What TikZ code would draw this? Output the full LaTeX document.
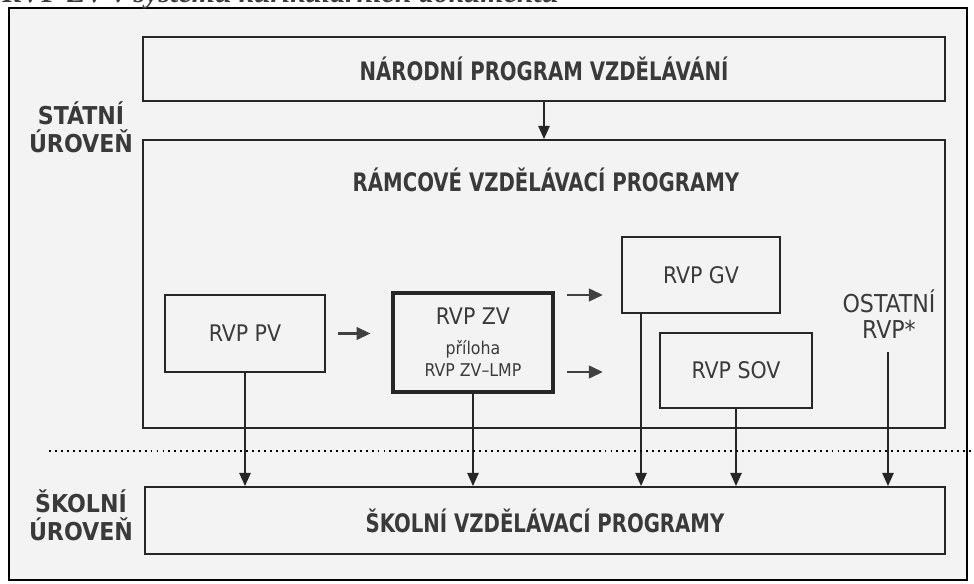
\documentclass[tikz,border=0pt]{standalone}
\usepackage{fontspec}
\setsansfont{DejaVu Sans Condensed}
\newfontfamily\headfont[FakeStretch=0.86]{DejaVu Sans Condensed}
\newfontfamily\capfont{Liberation Serif}
\usetikzlibrary{arrows.meta}
\definecolor{ink}{HTML}{3A3A3A}
\definecolor{paper}{HTML}{F3F3F3}

\begin{document}
\begin{tikzpicture}[x=0.02cm, y=-0.02cm, font=\sffamily, text=ink,
  box/.style={draw=black!85, line width=1.1pt, inner sep=0pt},
  head/.style={font=\headfont\bfseries\fontsize{14.5}{16}\selectfont},
  level/.style={font=\sffamily\bfseries\fontsize{14}{16}\selectfont, align=center},
  rvpname/.style={font=\sffamily\fontsize{13}{14.5}\selectfont, align=center},
  down/.style={draw=black!85, line width=0.8pt, -{Triangle[length=7.5pt,width=6.5pt]}},
  side/.style={draw=black!75, line width=1.7pt, -{Triangle[length=8pt,width=7pt]}}]
  \useasboundingbox[fill=white] (0,0) rectangle (974,584);
  \draw[line width=1.1pt, fill=paper] (9,8) rectangle (967,580);
  \node[font=\capfont\bfseries\itshape\fontsize{17}{20}\selectfont, anchor=base west, inner sep=0pt] (cap) at (2,3) {RVP ZV v systému kurikulárních dokumentů};

  \node[box, head, minimum width=16.04cm, minimum height=1.28cm] (npv) at (544,69) {NÁRODNÍ PROGRAM VZDĚLÁVÁNÍ};
  \node[box, minimum width=16.04cm, minimum height=5.76cm] (rvp) at (544,284) {};
  \node[head] (rvptitle) at (546,180) {RÁMCOVÉ VZDĚLÁVACÍ PROGRAMY};
  \node[box, head, minimum width=16cm, minimum height=1.34cm] (svp) at (545,520.5) {ŠKOLNÍ VZDĚLÁVACÍ PROGRAMY};
  \node[level] (statni) at (81,127) {STÁTNÍ\\ÚROVEŇ};
  \node[level] (skolni) at (81,515) {ŠKOLNÍ\\ÚROVEŇ};

  \node[box, rvpname, minimum width=3.2cm, minimum height=1.54cm] (pv) at (245,333.5) {RVP PV};
  \node[box, line width=2.8pt, minimum width=3.2cm, minimum height=1.98cm, align=center,
    font=\sffamily\fontsize{10}{12.5}\selectfont] (zv) at (473,342.5)
    {{\fontsize{13}{12.5}\selectfont RVP ZV}\\[4.5pt] příloha\\RVP ZV–LMP};
  \node[box, rvpname, minimum width=3.16cm, minimum height=1.52cm] (gv) at (701,275) {RVP GV};
  \node[box, rvpname, minimum width=3.04cm, minimum height=1.5cm] (sov) at (736,370.5) {RVP SOV};
  \node[rvpname, font=\sffamily\fontsize{14}{14.5}\selectfont] (ost) at (889,314) {OSTATNÍ\\RVP*};

  \coordinate (gvin) at (603,295);
  \coordinate (sovin) at (603,372);
  \coordinate (ostend) at (888,352);
  \coordinate (dotl) at (49,451);
  \coordinate (dotr) at (974,451);

  \draw[down] (npv.south) -- (rvp.north);
  \draw[side] ([xshift=0.24cm]pv.east) -- ([xshift=-0.4cm]zv.west |- pv.east);
  \draw[side] ([xshift=0.24cm]zv.east |- gvin) -- (gvin);
  \draw[side] ([xshift=0.24cm]zv.east |- sovin) -- (sovin);
  \draw[down] (pv.south) -- (pv.south |- svp.north);
  \draw[down] (zv.south) -- (zv.south |- svp.north);
  \draw[down] ([xshift=0.4cm]gv.south west) -- ([xshift=0.4cm]gv.south west |- svp.north);
  \draw[down] (sov.south) -- (sov.south |- svp.north);
  \draw[down] (ostend) -- (ostend |- svp.north);
  \draw[line width=1.4pt, dash pattern=on 1.1pt off 2.3pt] (dotl) -- (dotr);
\end{tikzpicture}
\end{document}
